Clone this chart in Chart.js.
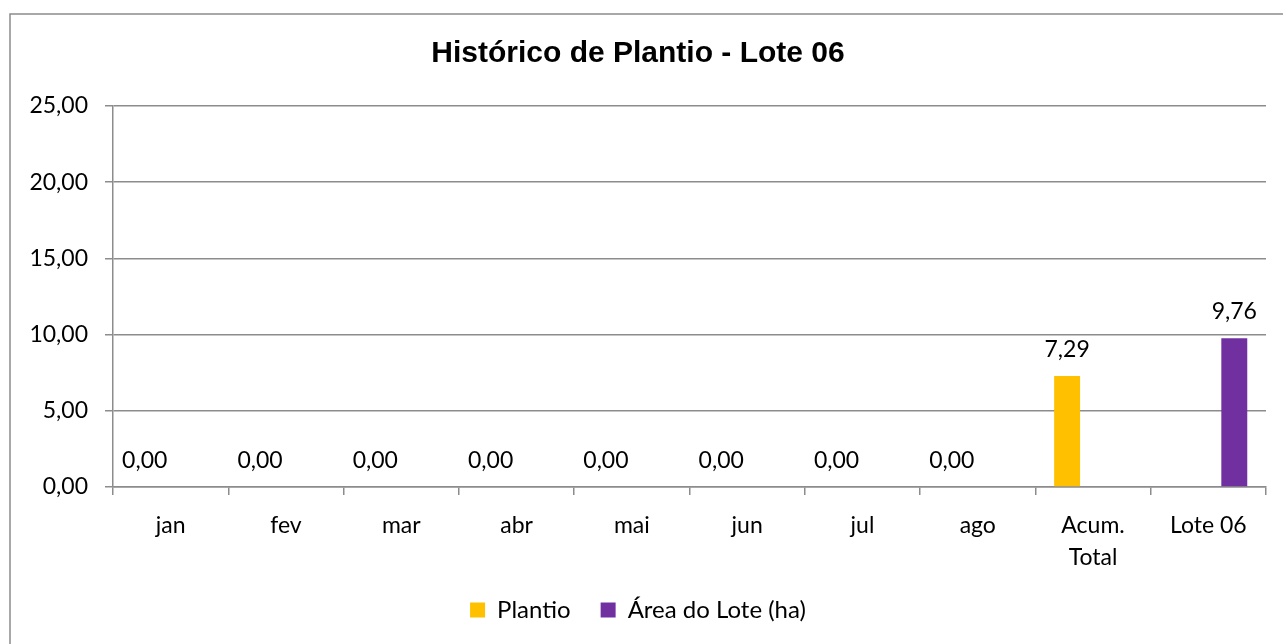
<!DOCTYPE html>
<html>
<head>
<meta charset="utf-8">
<script src="https://cdn.jsdelivr.net/npm/chart.js@4"></script>
<style>
  html, body { margin: 0; padding: 0; background: #fff; }
  #wrap { width: 1283px; height: 644px; }
</style>
</head>
<body>
<div id="wrap"><canvas id="chart"></canvas></div>
<script>
const categories = ['jan', 'fev', 'mar', 'abr', 'mai', 'jun', 'jul', 'ago', ['Acum.', 'Total'], 'Lote 06'];
const plantio = [0, 0, 0, 0, 0, 0, 0, 0, 7.29, null];
const areaLote = [null, null, null, null, null, null, null, null, null, 9.76];
const yTicks = [0, 5, 10, 15, 20, 25];

const GRAY = '#8c8c8c';
const FONT = 'Lato, "Open Sans", sans-serif';

const fmt = v => v.toFixed(2).replace('.', ',');

// outer frame (only left and top edges are visible in the picture)
const framePlugin = {
    id: 'frame',
    beforeDraw(chart) {
        const ctx = chart.ctx;
        ctx.save();
        ctx.fillStyle = '#fff';
        ctx.fillRect(0, 0, chart.width, chart.height);
        ctx.strokeStyle = GRAY;
        ctx.lineWidth = 1.5;
        ctx.beginPath();
        ctx.moveTo(10, chart.height);
        ctx.lineTo(10, 14);
        ctx.lineTo(chart.width, 14);
        ctx.stroke();
        ctx.restore();
    }
};

// value labels above each bar
const valueLabels = {
    id: 'valueLabels',
    afterDatasetsDraw(chart) {
        const ctx = chart.ctx;
        ctx.save();
        ctx.font = '23px ' + FONT;
        ctx.fillStyle = '#000';
        ctx.textAlign = 'center';
        ctx.textBaseline = 'alphabetic';
        chart.data.datasets.forEach((ds, i) => {
            const meta = chart.getDatasetMeta(i);
            meta.data.forEach((bar, j) => {
                const v = ds.data[j];
                if (v === null || v === undefined) return;
                ctx.fillText(fmt(v), bar.x, bar.y - 19);
            });
        });
        ctx.restore();
    }
};

new Chart(document.getElementById('chart'), {
    type: 'bar',
    data: {
        labels: categories,
        datasets: [
            { label: 'Plantio', data: plantio, backgroundColor: '#FFC000' },
            { label: 'Área do Lote (ha)', data: areaLote, backgroundColor: '#7030A0' }
        ]
    },
    options: {
        responsive: true,
        maintainAspectRatio: false,
        animation: false,
        categoryPercentage: 0.9,
        barPercentage: 0.5,
        layout: { padding: { left: 10, right: 17, top: 14, bottom: 12 } },
        plugins: {
            title: {
                display: true,
                text: 'Histórico de Plantio - Lote 06',
                color: '#000',
                font: { family: '"Liberation Sans", Arial, sans-serif', size: 30, weight: 'bold', lineHeight: 1.2 },
                padding: { top: 22, bottom: 34 }
            },
            legend: {
                position: 'bottom',
                labels: {
                    color: '#000',
                    font: { family: FONT, size: 24 },
                    boxWidth: 15,
                    boxHeight: 15,
                    padding: 30
                }
            },
            tooltip: { enabled: false }
        },
        scales: {
            x: {
                grid: { display: true, drawOnChartArea: false, drawTicks: true, tickLength: 8, color: GRAY, lineWidth: 1.5, offset: true },
                border: { color: GRAY, width: 1.5 },
                ticks: { color: '#000', font: { family: FONT, size: 23, lineHeight: 1.4 }, padding: 14, maxRotation: 0, autoSkip: false },
                afterFit(scale) { scale.height = 81; }
            },
            y: {
                min: 0,
                max: 25,
                afterBuildTicks(scale) { scale.ticks = yTicks.map(v => ({ value: v })); },
                grid: { color: GRAY, lineWidth: 1.5, drawTicks: true, tickLength: 8 },
                border: { color: GRAY, width: 1.5 },
                ticks: { color: '#000', font: { family: FONT, size: 23 }, padding: 17, callback: v => fmt(v) },
                afterFit(scale) { scale.width = 103; }
            }
        }
    },
    plugins: [framePlugin, valueLabels]
});
</script>
</body>
</html>
